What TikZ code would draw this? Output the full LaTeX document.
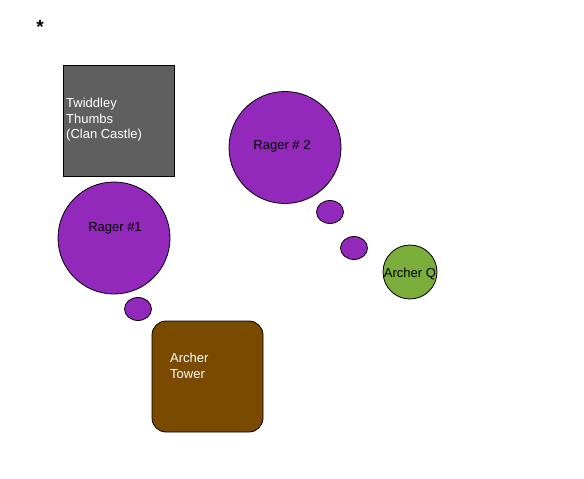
\documentclass[tikz,border=0pt]{standalone}
\usepackage{fontspec}
\setmainfont{Liberation Sans}
\usetikzlibrary{shapes.geometric}
\definecolor{purp}{HTML}{9329BA}
\definecolor{castle}{HTML}{5F5F5F}
\definecolor{tower}{HTML}{7A4A00}
\definecolor{archq}{HTML}{7AAD3A}
\begin{document}
\begin{tikzpicture}[x=1pt,y=-1pt,
  txt/.style={font=\fontsize{13}{15.5}\selectfont, inner sep=0pt},
  bubble/.style={draw=black, line width=0.8pt, fill=purp},
  smallbub/.style={bubble, ellipse, minimum width=27pt, minimum height=23pt, inner sep=0pt}]
\useasboundingbox (0,0) rectangle (584,479);
\node[txt, font=\fontsize{19}{19}\selectfont\bfseries] (star) at (40,27) {*};
% clan castle
\node[draw=black, line width=0.8pt, fill=castle, minimum width=111pt, minimum height=111pt, inner sep=0pt] (castle) at (118.5,120.5) {};
\node[txt, text=white, align=left, anchor=west] (castletxt) at (66,120) {Twiddley\\Thumbs\\(Clan Castle)};
% rager 1
\node[bubble, circle, minimum size=112pt, inner sep=0pt] (r1) at (114,238) {};
\node[txt] (r1txt) at (115,228) {Rager \#1};
\node[smallbub] (s1) at (138,309) {};
% archer tower
\node[draw=black, line width=0.8pt, fill=tower, rounded corners=14pt, minimum width=111pt, minimum height=111pt, inner sep=0pt] (tower) at (207.5,376.5) {};
\node[txt, text=white, align=left, anchor=west] (towertxt) at (170,366) {Archer\\Tower};
% rager 2
\node[bubble, circle, minimum size=112pt, inner sep=0pt] (r2) at (285,147.5) {};
\node[txt] (r2txt) at (282,146) {Rager \# 2};
\node[smallbub] (s2) at (330,212) {};
\node[smallbub] (s3) at (354,248) {};
% archer queen
\node[draw=black, line width=0.8pt, fill=archq, circle, minimum size=54pt, inner sep=0pt] (aq) at (410,272) {};
\node[txt] (aqtxt) at (410,274) {Archer Q};
\end{tikzpicture}
\end{document}
